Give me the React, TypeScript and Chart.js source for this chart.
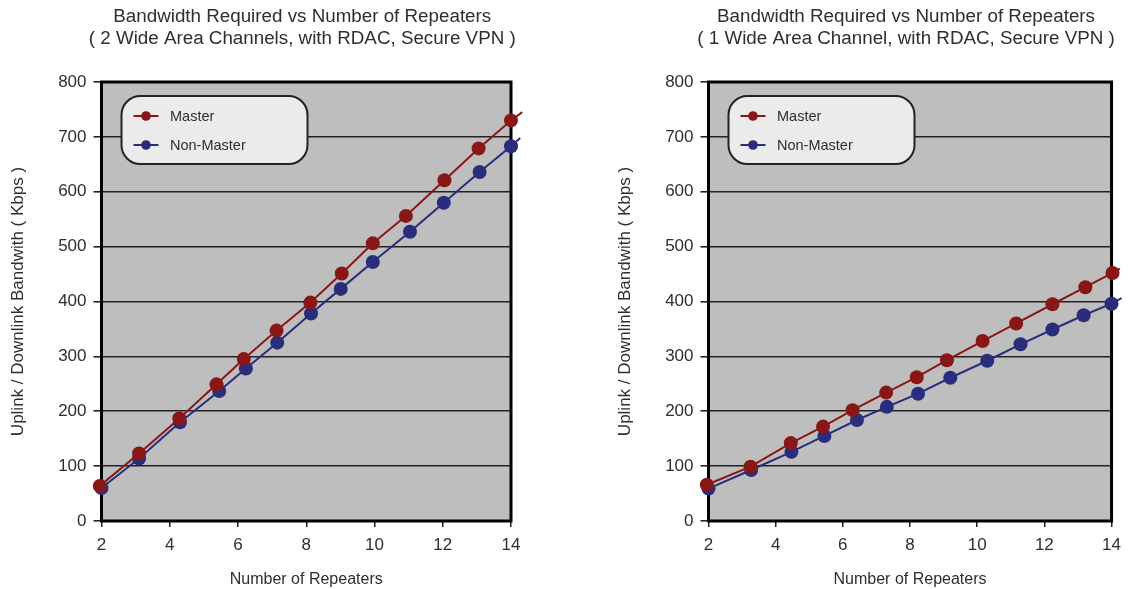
import React, { useEffect, useRef } from 'react';
import { Chart, registerables } from 'chart.js';

Chart.register(...registerables);
Chart.defaults.font.family = '"Liberation Sans", Arial, sans-serif';

// ---- texts ----
const titleLeft = ['Bandwidth Required vs Number of Repeaters', '( 2 Wide Area Channels, with RDAC, Secure VPN )'];
const titleRight = ['Bandwidth Required vs Number of Repeaters', '( 1 Wide Area Channel, with RDAC, Secure VPN )'];
const xAxisTitle = 'Number of Repeaters';
const yAxisTitle = 'Uplink / Downlink Bandwith ( Kbps )';
const seriesNames = ['Master', 'Non-Master'];

// ---- axis ranges / ticks ----
const xMin = 2;
const xMax = 14;
const xStep = 2;
const yMin = 0;
const yMax = 800;
const yStep = 100;

// ---- data: 2 wide area channels (last value = where the line leaves the frame, no marker) ----
const masterX2 = [1.95, 3.1, 4.28, 5.37, 6.17, 7.13, 8.12, 9.04, 9.95, 10.92, 12.05, 13.05, 14.0, 14.33];
const masterY2 = [64, 123, 187, 249, 295, 347, 398, 451, 506, 556, 621, 679, 730, 745];
const nonMasterX2 = [2.0, 3.1, 4.3, 5.45, 6.23, 7.15, 8.14, 9.01, 9.95, 11.04, 12.03, 13.08, 14.0, 14.27];
const nonMasterY2 = [60, 114, 180, 237, 278, 325, 378, 423, 472, 527, 580, 636, 683, 698];

// ---- data: 1 wide area channel ----
const masterX1 = [1.95, 3.25, 4.45, 5.41, 6.29, 7.29, 8.2, 9.1, 10.16, 11.16, 12.24, 13.22, 14.03, 14.25];
const masterY1 = [66, 99, 142, 172, 202, 234, 262, 293, 328, 360, 395, 426, 452, 460];
const nonMasterX1 = [2.0, 3.27, 4.47, 5.45, 6.42, 7.31, 8.24, 9.2, 10.3, 11.29, 12.24, 13.17, 14.0, 14.3];
const nonMasterY1 = [59, 93, 126, 155, 184, 208, 232, 261, 292, 322, 349, 375, 396, 406];

const MASTER_COLOR = '#8a1718';
const NON_MASTER_COLOR = '#2a2d7c';
const TEXT_COLOR = '#2e2e2e';

const toPoints = (xs: number[], ys: number[]) => xs.map((x, i) => ({ x, y: ys[i] }));

const decorPlugin = {
  id: 'decor',
  beforeDraw(chart: any) {
    const { ctx, chartArea: a } = chart;
    ctx.save();
    ctx.fillStyle = '#bebebe';
    ctx.fillRect(a.left, a.top, a.right - a.left, a.bottom - a.top);
    ctx.restore();
  },
  beforeDatasetsDraw(chart: any) {
    const { ctx, chartArea: a } = chart;
    ctx.save();
    ctx.strokeStyle = '#000';
    ctx.lineWidth = 3;
    ctx.strokeRect(a.left, a.top, a.right - a.left, a.bottom - a.top);
    ctx.restore();
  },
  afterDatasetsDraw(chart: any) {
    const { ctx, chartArea: a } = chart;
    const bx = a.left + 20;
    const by = a.top + 14;
    const bw = 186;
    const bh = 68;
    const r = 19;
    ctx.save();
    ctx.beginPath();
    ctx.moveTo(bx + r, by);
    ctx.lineTo(bx + bw - r, by);
    ctx.arcTo(bx + bw, by, bx + bw, by + r, r);
    ctx.lineTo(bx + bw, by + bh - r);
    ctx.arcTo(bx + bw, by + bh, bx + bw - r, by + bh, r);
    ctx.lineTo(bx + r, by + bh);
    ctx.arcTo(bx, by + bh, bx, by + bh - r, r);
    ctx.lineTo(bx, by + r);
    ctx.arcTo(bx, by, bx + r, by, r);
    ctx.closePath();
    ctx.fillStyle = '#ebebeb';
    ctx.fill();
    ctx.strokeStyle = '#222';
    ctx.lineWidth = 2;
    ctx.stroke();
    const rows = [
      { label: chart.data.datasets[0].label, color: chart.data.datasets[0].borderColor, y: by + 20 },
      { label: chart.data.datasets[1].label, color: chart.data.datasets[1].borderColor, y: by + 49 },
    ];
    ctx.font = '14.5px "Liberation Sans", Arial, sans-serif';
    ctx.textBaseline = 'middle';
    ctx.textAlign = 'left';
    rows.forEach((row) => {
      ctx.strokeStyle = row.color;
      ctx.lineWidth = 2;
      ctx.beginPath();
      ctx.moveTo(bx + 12, row.y);
      ctx.lineTo(bx + 37, row.y);
      ctx.stroke();
      ctx.fillStyle = row.color;
      ctx.beginPath();
      ctx.arc(bx + 24.5, row.y, 4.8, 0, Math.PI * 2);
      ctx.fill();
      ctx.fillStyle = TEXT_COLOR;
      ctx.fillText(row.label, bx + 48.5, row.y + 0.5);
    });
    ctx.restore();
  },
  afterDraw(chart: any) {
    const { ctx, chartArea: a } = chart;
    const lines: string[] = chart.options.plugins.decor.title;
    const cx = (a.left + a.right) / 2 - 4;
    ctx.save();
    ctx.font = '18.8px "Liberation Sans", Arial, sans-serif';
    ctx.fillStyle = TEXT_COLOR;
    ctx.textAlign = 'center';
    ctx.textBaseline = 'middle';
    lines.forEach((t, i) => ctx.fillText(t, cx, 17 + i * 22));
    ctx.restore();
  },
};

function makeConfig(
  titleLines: string[],
  mX: number[],
  mY: number[],
  nX: number[],
  nY: number[],
  padRight: number
): any {
  const radius = (c: any) => (c.dataIndex === c.dataset.data.length - 1 ? 0 : 7);
  return {
    type: 'line',
    data: {
      datasets: [
        {
          label: seriesNames[0],
          data: toPoints(mX, mY),
          borderColor: MASTER_COLOR,
          backgroundColor: MASTER_COLOR,
          pointBackgroundColor: MASTER_COLOR,
          pointBorderColor: MASTER_COLOR,
          pointBorderWidth: 0,
          pointRadius: radius,
          borderWidth: 2,
          tension: 0,
          clip: false,
        },
        {
          label: seriesNames[1],
          data: toPoints(nX, nY),
          borderColor: NON_MASTER_COLOR,
          backgroundColor: NON_MASTER_COLOR,
          pointBackgroundColor: NON_MASTER_COLOR,
          pointBorderColor: NON_MASTER_COLOR,
          pointBorderWidth: 0,
          pointRadius: radius,
          borderWidth: 2,
          tension: 0,
          clip: false,
        },
      ],
    },
    options: {
      responsive: false,
      animation: false,
      devicePixelRatio: 1,
      layout: { padding: { top: 82, right: padRight, bottom: 0, left: 0 } },
      plugins: {
        legend: { display: false },
        tooltip: { enabled: false },
        title: { display: false },
        decor: { title: titleLines },
      },
      scales: {
        x: {
          type: 'linear',
          afterDataLimits: (s: any) => {
            s.min = xMin;
            s.max = xMax;
          },
          border: { display: false },
          grid: { drawOnChartArea: false, drawTicks: true, tickLength: 6, color: '#222', lineWidth: 1.5 },
          ticks: { stepSize: xStep, font: { size: 17 }, color: TEXT_COLOR, padding: 8 },
          title: {
            display: true,
            text: xAxisTitle,
            font: { size: 16 },
            color: TEXT_COLOR,
            padding: { top: 0, bottom: 0 },
          },
          afterFit: (s: any) => {
            s.height = 68;
          },
        },
        y: {
          type: 'linear',
          min: yMin,
          max: yMax,
          border: { display: false },
          grid: { drawTicks: true, tickLength: 8, color: '#222', lineWidth: 1.6 },
          ticks: { stepSize: yStep, font: { size: 17 }, color: TEXT_COLOR, padding: 7 },
          title: {
            display: true,
            text: yAxisTitle,
            font: { size: 17 },
            color: TEXT_COLOR,
            padding: { top: 8, bottom: 0 },
          },
          afterFit: (s: any) => {
            s.width = 101.5;
          },
        },
      },
    },
    plugins: [decorPlugin],
  };
}

function Panel(props: {
  left: number;
  width: number;
  padRight: number;
  title: string[];
  mX: number[];
  mY: number[];
  nX: number[];
  nY: number[];
}) {
  const ref = useRef<HTMLCanvasElement | null>(null);
  useEffect(() => {
    if (!ref.current) return;
    const chart = new Chart(
      ref.current,
      makeConfig(props.title, props.mX, props.mY, props.nX, props.nY, props.padRight)
    );
    return () => chart.destroy();
  }, []);
  return (
    <canvas
      ref={ref}
      width={props.width}
      height={589}
      style={{ position: 'absolute', left: props.left, top: 0, width: props.width, height: 589 }}
    />
  );
}

export default function App() {
  return (
    <div style={{ position: 'absolute', left: 0, top: 0, width: 1129, height: 589, background: '#fff', overflow: 'hidden' }}>
      <Panel left={0} width={560} padRight={49} title={titleLeft} mX={masterX2} mY={masterY2} nX={nonMasterX2} nY={nonMasterY2} />
      <Panel left={607} width={522} padRight={11} title={titleRight} mX={masterX1} mY={masterY1} nX={nonMasterX1} nY={nonMasterY1} />
    </div>
  );
}
